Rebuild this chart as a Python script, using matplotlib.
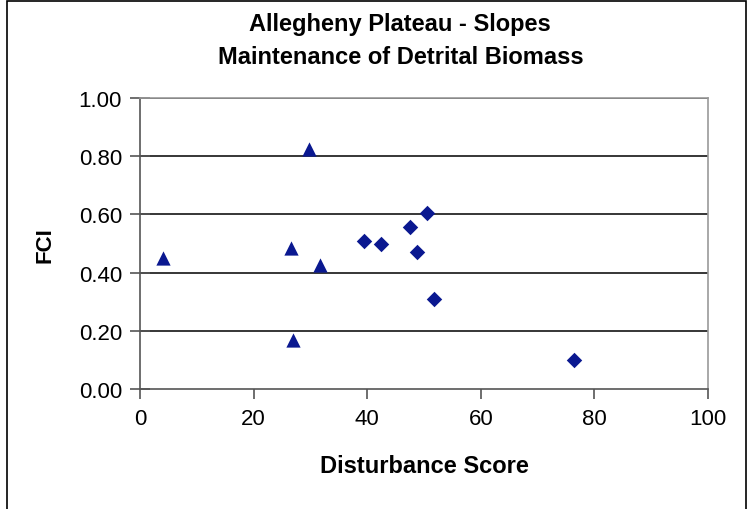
import matplotlib
matplotlib.use("Agg")
import matplotlib.pyplot as plt
from matplotlib.patches import Rectangle

# data
tri_x = [4.0, 26.5, 29.8, 31.7, 26.9]
tri_y = [0.45, 0.485, 0.825, 0.425, 0.17]
dia_x = [39.4, 42.4, 47.6, 48.7, 50.6, 51.8, 76.4]
dia_y = [0.51, 0.50, 0.555, 0.47, 0.605, 0.31, 0.10]
x_ticks = [0, 20, 40, 60, 80, 100]
y_ticks = [0.0, 0.2, 0.4, 0.6, 0.8, 1.0]

plt.rcParams['font.family'] = ['Liberation Sans', 'DejaVu Sans']
navy = '#0a1890'

fig = plt.figure(figsize=(7.49, 5.10), dpi=100)
ax = fig.add_axes([140 / 749, 1 - 390 / 510, 568 / 749, 291 / 510])

ax.scatter(tri_x, tri_y, marker='^', s=105, color=navy, zorder=3, linewidths=0)
ax.scatter(dia_x, dia_y, marker='D', s=62, color=navy, zorder=3, linewidths=0)

ax.set_xlim(0, 100)
ax.set_ylim(0, 1.0)
ax.set_xticks(x_ticks)
ax.set_yticks(y_ticks)
ax.set_yticklabels([f"{v:.2f}" for v in y_ticks])
ax.tick_params(axis='both', labelsize=16, color='#555555', width=1.2)
ax.tick_params(axis='x', direction='out', length=7, pad=7)
ax.tick_params(axis='y', direction='inout', length=14, pad=6)

for v in y_ticks[1:]:
    ax.axhline(v, color='black', lw=1.1, zorder=1)

for side in ['top', 'right']:
    ax.spines[side].set_color('#999999')
for side in ['left', 'bottom']:
    ax.spines[side].set_color('#555555')
for s in ax.spines.values():
    s.set_linewidth(1.2)

ax.set_xlabel('Disturbance Score', fontsize=17, fontweight='bold', va='center')
ax.xaxis.set_label_coords(424 / 749, 1 - 467 / 510, transform=fig.transFigure)
ax.set_ylabel('FCI', fontsize=16, fontweight='bold', va='center')
ax.yaxis.set_label_coords(45 / 749, 1 - 245 / 510, transform=fig.transFigure)

fig.text(400 / 749, 1 - 25 / 510, 'Allegheny Plateau - Slopes', ha='center', va='center',
         fontsize=17, fontweight='bold')
fig.text(401 / 749, 1 - 57 / 510, 'Maintenance of Detrital Biomass', ha='center', va='center',
         fontsize=17, fontweight='bold')

# chart area border
fig.patches.append(Rectangle((7 / 749, -0.05), 739 / 749, 1.05 - 1.5 / 510,
                             transform=fig.transFigure, fill=False,
                             edgecolor='black', lw=1.2))

fig.savefig('out.png', dpi=100)
